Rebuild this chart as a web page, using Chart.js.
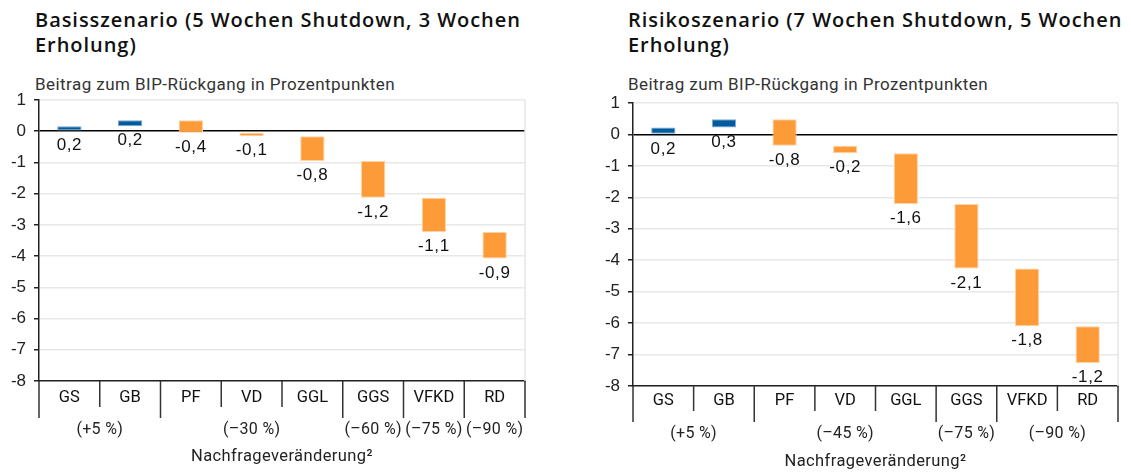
<!DOCTYPE html>
<html><head><meta charset="utf-8">
<script src="https://cdn.jsdelivr.net/npm/chart.js@4.4.1/dist/chart.umd.min.js"></script>
<style>
html,body{margin:0;padding:0;background:#fff;width:1131px;height:472px;overflow:hidden;}
body{position:relative;font-family:Roboto,"Liberation Sans",sans-serif;color:#111;}
.title{position:absolute;font-family:"Open Sans",Roboto,sans-serif;font-weight:600;font-size:20px;letter-spacing:0.95px;line-height:24.5px;color:#111;white-space:nowrap}
.sub{position:absolute;font-family:Roboto,sans-serif;font-size:17px;letter-spacing:0.45px;line-height:20px;color:#333;white-space:nowrap}
canvas{position:absolute;top:0}
</style></head><body>
<div class="title" style="left:35px;top:8px">Basisszenario (5 Wochen Shutdown, 3 Wochen<br>Erholung)</div>
<div class="sub" style="left:35px;top:74px">Beitrag zum BIP-Rückgang in Prozentpunkten</div>
<div class="title" style="left:628px;top:8px">Risikoszenario (7 Wochen Shutdown, 5 Wochen<br>Erholung)</div>
<div class="sub" style="left:628px;top:74px">Beitrag zum BIP-Rückgang in Prozentpunkten</div>
<canvas id="c1" width="565" height="472" style="left:0"></canvas>
<canvas id="c2" width="566" height="472" style="left:565px"></canvas>
<script>
// ---- data ----
const categories = ['GS','GB','PF','VD','GGL','GGS','VFKD','RD'];
const basisValues = [0.16, 0.19, -0.40, -0.11, -0.79, -1.18, -1.10, -0.85];
const basisLabels = ['0,2','0,2','-0,4','-0,1','-0,8','-1,2','-1,1','-0,9'];
const basisGroupLabels = ['(+5 %)','(\u201330 %)','(\u201360 %)','(\u201375 %)','(\u201390 %)'];
const basisGroupSizes = [2,3,1,1,1];
const risikoValues = [0.22, 0.26, -0.84, -0.24, -1.61, -2.05, -1.84, -1.17];
const risikoLabels = ['0,2','0,3','-0,8','-0,2','-1,6','-2,1','-1,8','-1,2'];
const risikoGroupLabels = ['(+5 %)','(\u201345 %)','(\u201375 %)','(\u201390 %)'];
const risikoGroupSizes = [2,3,1,2];
const yMin = -8, yMax = 1;
const axisCaption = 'Nachfrageveränderung\u00B2';

const BLUE = '#005b9f', ORANGE = '#fd9b38';

function waterfall(vals){
  let run = 0; const out = [];
  vals.forEach(v => { out.push([run, run + v]); run += v; });
  return out;
}

const decorPlugin = {
  id: 'decor',
  beforeDatasetsDraw(chart){
    const {ctx, chartArea:a} = chart;
    ctx.save();
    ctx.strokeStyle = '#e6e6e6'; ctx.lineWidth = 1.5;
    ctx.beginPath(); ctx.moveTo(a.right, a.top); ctx.lineTo(a.right, a.bottom); ctx.stroke();
    ctx.restore();
  },
  afterDatasetsDraw(chart, args, opts){
    const {ctx, chartArea:a} = chart;
    const xs = chart.scales.x, ys = chart.scales.y;
    const ds = chart.data.datasets[0].data;
    ctx.save();
    // value labels
    ctx.font = '17px "Liberation Sans", Arial, sans-serif';
    try { ctx.letterSpacing = '0.6px'; } catch(e) {}
    ctx.fillStyle = '#111'; ctx.textAlign = 'center'; ctx.textBaseline = 'top';
    ds.forEach((d, i) => {
      const low = Math.min(d[0], d[1]);
      ctx.fillText(opts.labels[i], xs.getPixelForValue(i), ys.getPixelForValue(low) + opts.labelGap);
    });
    // separators
    const n = ds.length;
    const bound = k => k === 0 ? a.left : (k === n ? a.right : (xs.getPixelForValue(k - 1) + xs.getPixelForValue(k)) / 2);
    const groupEdges = new Set([0]); let acc = 0;
    opts.groupSizes.forEach(s => { acc += s; groupEdges.add(acc); });
    ctx.strokeStyle = '#333'; ctx.lineWidth = 1.5;
    for (let k = 0; k <= n; k++) {
      const x = bound(k);
      const len = groupEdges.has(k) ? opts.longTick : opts.shortTick;
      ctx.beginPath(); ctx.moveTo(x, a.bottom); ctx.lineTo(x, a.bottom + len); ctx.stroke();
    }
    // group labels
    ctx.font = '16px Roboto, sans-serif';
    try { ctx.letterSpacing = '0.3px'; } catch(e) {}
    ctx.fillStyle = '#222'; ctx.textBaseline = 'middle';
    acc = 0;
    opts.groupSizes.forEach((s, g) => {
      const cx = (bound(acc) + bound(acc + s)) / 2;
      ctx.fillText(opts.groupLabels[g], cx, a.bottom + opts.groupY);
      acc += s;
    });
    // caption
    ctx.font = '16.5px Roboto, sans-serif';
    try { ctx.letterSpacing = '0.4px'; } catch(e) {}
    ctx.fillText(opts.caption, (a.left + a.right) / 2, a.bottom + opts.captionY);
    ctx.restore();
  }
};

function makeChart(id, vals, labels, gLabels, gSizes, geo){
  const ranges = waterfall(vals);
  const colors = vals.map(v => v >= 0 ? BLUE : ORANGE);
  const borders = vals.map(v => v >= 0 ? '#7fa8cf' : '#ffd2a6');
  return new Chart(document.getElementById(id), {
    type: 'bar',
    data: { labels: categories, datasets: [{ data: ranges, backgroundColor: colors, borderColor: borders, borderWidth: 1, borderSkipped: false, categoryPercentage: 1, barPercentage: 0.4 }] },
    options: {
      responsive: false, animation: false, devicePixelRatio: 1,
      layout: { padding: { top: geo.top, right: geo.right, left: 0, bottom: 0 } },
      plugins: { legend: { display: false }, tooltip: { enabled: false },
        decor: { labels, groupLabels: gLabels, groupSizes: gSizes, caption: axisCaption,
                 labelGap: 6, shortTick: geo.shortTick, longTick: geo.longTick, groupY: geo.groupY, captionY: geo.captionY } },
      scales: {
        x: {
          grid: { display: false, drawTicks: false },
          border: { display: true, color: '#222', width: 1.5 },
          ticks: { font: { family: 'Roboto', size: 16.5 }, color: '#111', padding: geo.catPad, maxRotation: 0, autoSkip: false },
          afterFit: s => { s.height = geo.xHeight; }
        },
        y: {
          min: yMin, max: yMax,
          ticks: { stepSize: 1, font: { family: 'Liberation Sans', size: 17 }, color: '#222', padding: 8 },
          grid: { color: c => c.tick && c.tick.value === 0 ? '#000' : '#e8e8e8', lineWidth: 1.5, tickColor: '#222', tickLength: 5 },
          border: { display: true, color: '#222', width: 1.5 },
          afterFit: s => { s.width = geo.yWidth; }
        }
      }
    },
    plugins: [decorPlugin]
  });
}

makeChart('c1', basisValues, basisLabels, basisGroupLabels, basisGroupSizes,
  { top: 100, right: 40, yWidth: 39, xHeight: 91, shortTick: 26, longTick: 37, groupY: 49, captionY: 76, catPad: 7 });
makeChart('c2', risikoValues, risikoLabels, risikoGroupLabels, risikoGroupSizes,
  { top: 103, right: 13, yWidth: 68, xHeight: 86, shortTick: 25, longTick: 36, groupY: 48, captionY: 76, catPad: 5 });
</script>
</body></html>
